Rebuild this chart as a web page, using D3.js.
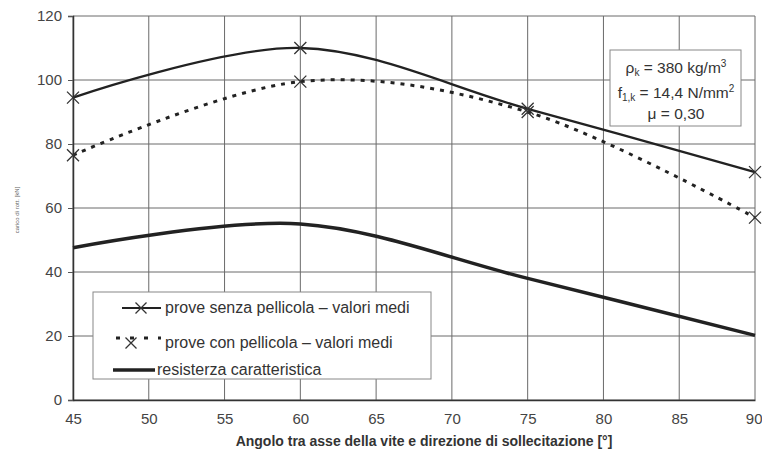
<!DOCTYPE html>
<html><head><meta charset="utf-8">
<script src="https://cdn.jsdelivr.net/npm/d3@7"></script>
<style>body{margin:0;background:#fff}svg{display:block}text{font-family:"Liberation Sans",Arial,sans-serif}</style>
</head><body><svg id="c" width="762" height="456"></svg>
<script>
const angles = [45, 60, 75, 90];
const senzaPellicola = [94.5, 110, 91, 71.2];
const conPellicola = [76.5, 99.5, 90, 57];
const resistenza = [47.6, 55, 38, 20.2];
const xTicks = [45, 50, 55, 60, 65, 70, 75, 80, 85, 90];
const yTicks = [0, 20, 40, 60, 80, 100, 120];
const legendLabels = ["prove senza pellicola \u2013 valori medi", "prove con pellicola \u2013 valori medi", "resisterza caratteristica"];
const xTitle = "Angolo tra asse della vite e direzione di sollecitazione [\u00b0]";
const yTitle = "carico di rott. [kN]";

const svg = d3.select("#c");
const x = d3.scaleLinear().domain([45, 90]).range([73, 755]);
const y = d3.scaleLinear().domain([0, 120]).range([400, 16]);
const ink = "#222", grid = "#6a6a6a";

// grid
svg.append("g").selectAll("line.v").data(xTicks).join("line")
  .attr("x1", d => x(d)).attr("x2", d => x(d)).attr("y1", y(120)).attr("y2", y(0))
  .attr("stroke", grid).attr("stroke-width", 1);
svg.append("g").selectAll("line.h").data(yTicks).join("line")
  .attr("x1", x(45)).attr("x2", x(90)).attr("y1", d => y(d)).attr("y2", d => y(d))
  .attr("stroke", grid).attr("stroke-width", 1);

// axes
const xAxis = svg.append("g").attr("transform", `translate(0,${y(0)})`)
  .call(d3.axisBottom(x).tickValues(xTicks).tickSize(0).tickPadding(13));
xAxis.select(".domain").attr("stroke", "#333").attr("stroke-width", 1.5);
xAxis.selectAll("text").attr("font-size", 15).attr("fill", "#444").attr("font-family", "Liberation Sans, Arial, sans-serif");
xAxis.selectAll(".tick").filter(d => d === 90).select("text").attr("text-anchor", "end").attr("dx", 7);
const yAxis = svg.append("g").attr("transform", `translate(${x(45)},0)`)
  .call(d3.axisLeft(y).tickValues(yTicks).tickSize(5).tickPadding(6));
yAxis.select(".domain").attr("stroke", "#333").attr("stroke-width", 1.5);
yAxis.selectAll("line").attr("stroke", "#555");
yAxis.selectAll("text").attr("font-size", 15).attr("fill", "#444").attr("font-family", "Liberation Sans, Arial, sans-serif");

// titles
svg.append("text").attr("x", 424).attr("y", 446).attr("text-anchor", "middle")
  .attr("font-size", 14).attr("font-weight", "bold").attr("fill", "#333").text(xTitle);
svg.append("text").attr("transform", "translate(19,210) rotate(-90)").attr("text-anchor", "middle")
  .attr("font-size", 6).attr("fill", "#666").text(yTitle);

// lines
const mk = vals => angles.map((a, i) => [a, vals[i]]);
const line = d3.line().x(d => x(d[0])).y(d => y(d[1])).curve(d3.curveCardinal.tension(0));
const plot = svg.append("g");
plot.append("path").attr("d", line(mk(resistenza))).attr("fill", "none").attr("stroke", ink).attr("stroke-width", 3.5);
plot.append("path").attr("d", line(mk(conPellicola))).attr("fill", "none").attr("stroke", ink).attr("stroke-width", 3).attr("stroke-dasharray", "4,6");
plot.append("path").attr("d", line(mk(senzaPellicola))).attr("fill", "none").attr("stroke", ink).attr("stroke-width", 2.3);

const cross = (g, cx, cy, s) => {
  g.append("path").attr("d", `M${cx - s},${cy - s}L${cx + s},${cy + s}M${cx - s},${cy + s}L${cx + s},${cy - s}`)
    .attr("stroke", "#333").attr("stroke-width", 1.3).attr("fill", "none");
};
[senzaPellicola, conPellicola].forEach(vals => {
  mk(vals).forEach(d => cross(plot, x(d[0]), y(d[1]), 6));
});

// legend
const lg = svg.append("g");
lg.append("rect").attr("x", 93).attr("y", 292).attr("width", 338).attr("height", 87)
  .attr("fill", "#fff").attr("stroke", "#888").attr("stroke-width", 1);
const rows = [308, 343, 370];
lg.append("line").attr("x1", 122).attr("x2", 161).attr("y1", rows[0]).attr("y2", rows[0]).attr("stroke", ink).attr("stroke-width", 2);
cross(lg, 141, rows[0], 5.5);
lg.append("line").attr("x1", 112).attr("x2", 161).attr("y1", rows[1] - 5).attr("y2", rows[1] - 5).attr("stroke", ink).attr("stroke-width", 3).attr("stroke-dasharray", "4,10").attr("stroke-dashoffset", -4);
cross(lg, 131, rows[1], 5.5);
lg.append("line").attr("x1", 113).attr("x2", 155).attr("y1", rows[2]).attr("y2", rows[2]).attr("stroke", ink).attr("stroke-width", 3.5);
legendLabels.forEach((t, i) => {
  lg.append("text").attr("x", i === 2 ? 157 : 165).attr("y", rows[i] + 5).attr("font-size", 16).attr("fill", "#333").text(t);
});

// annotation box
const ann = svg.append("g");
ann.append("rect").attr("x", 610).attr("y", 50).attr("width", 131).attr("height", 76)
  .attr("fill", "#fff").attr("stroke", "#888").attr("stroke-width", 1);
const t1 = ann.append("text").attr("x", 676).attr("y", 73).attr("text-anchor", "middle").attr("font-size", 15.5).attr("fill", "#333");
t1.append("tspan").text("\u03c1");
t1.append("tspan").attr("font-size", 10).attr("dy", 3).text("k");
t1.append("tspan").attr("dy", -3).text(" = 380 kg/m");
t1.append("tspan").attr("font-size", 10).attr("dy", -6).text("3");
const t2 = ann.append("text").attr("x", 676).attr("y", 98).attr("text-anchor", "middle").attr("font-size", 15.5).attr("fill", "#333");
t2.append("tspan").text("f");
t2.append("tspan").attr("font-size", 10).attr("dy", 3).text("1,k");
t2.append("tspan").attr("dy", -3).text(" = 14,4 N/mm");
t2.append("tspan").attr("font-size", 10).attr("dy", -6).text("2");
ann.append("text").attr("x", 676).attr("y", 119).attr("text-anchor", "middle").attr("font-size", 15.5).attr("fill", "#333").text("\u03bc = 0,30");
</script></body></html>
